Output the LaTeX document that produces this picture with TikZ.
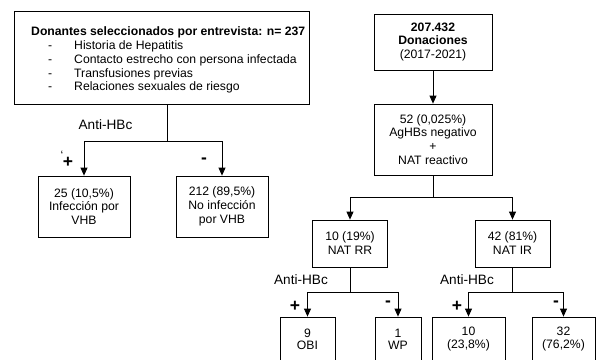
\documentclass[tikz,border=0pt]{standalone}
\usepackage{fontspec}
\setmainfont{Liberation Sans}
\usetikzlibrary{arrows.meta}
\newcommand{\basefs}{\fontsize{12.2}{13.9}\selectfont}
\tikzset{
  box/.style={draw, line width=0.8pt, align=center, inner sep=0pt, font=\basefs},
  lowbox/.style={box, font=\fontsize{12.2}{12.3}\selectfont},
  conn/.style={line width=0.8pt},
  arr/.style={line width=0.8pt, -{Triangle[width=7pt,length=8pt]}},
  lbl/.style={inner sep=0pt, font=\fontsize{13.6}{15}\selectfont},
  sign/.style={inner sep=0pt, font=\bfseries\fontsize{17.5}{17.5}\selectfont},
}
\newcommand{\itm}[1]{\makebox[43pt][l]{\hspace*{17pt}-}#1}
\begin{document}
\begin{tikzpicture}[x=1pt,y=-1pt]
\useasboundingbox (0,0) rectangle (600,359);
\clip (0,0) rectangle (600,359);
% left branch
\node[box, minimum width=295pt, minimum height=93pt] (tl) at (161.5,57.5) {};
\node[anchor=west, inner sep=0pt, align=left, font=\basefs] (tlt) at (31,60)
  {\textbf{Donantes seleccionados por entrevista: n= 237}\\
   \itm{Historia de Hepatitis}\\
   \itm{Contacto estrecho con persona infectada}\\
   \itm{Transfusiones previas}\\
   \itm{Relaciones sexuales de riesgo}};
\node[box, minimum width=92pt, minimum height=61pt] (b25) at (84,206.5) {25 (10,5\%)\\Infección por\\VHB};
\node[box, minimum width=92pt, minimum height=61pt] (b212) at (222,206.5) {212 (89,5\%)\\No infección\\por VHB};
\coordinate (j1) at (167,141);
\draw[conn] (tl.south -| j1) -- (j1);
\draw[arr] (j1) -| (b25.north);
\draw[arr] (j1) -| (b212.north);
\node[lbl] (ah1) at (105.5,125) {Anti-HBc};
\node[sign] (p1) at (68,162) {+};
\node[inner sep=0pt, font=\basefs] (bt) at (62,155) {`};
\node[sign] (m1) at (204,161) {-};
% right branch
\node[box, minimum width=118pt, minimum height=56pt] (don) at (433,42) {\textbf{207.432}\\\textbf{Donaciones}\\(2017-2021)};
\node[box, minimum width=118pt, minimum height=71pt] (ag) at (433,139.5) {52 (0,025\%)\\AgHBs negativo\\+\\NAT reactivo};
\draw[arr] (don) -- (ag);
\node[box, minimum width=75pt, minimum height=47pt] (rr) at (350,243.5) {10 (19\%)\\NAT RR};
\node[box, minimum width=75pt, minimum height=47pt] (ir) at (512.5,243.5) {42 (81\%)\\NAT IR};
\coordinate (j2) at (433,197);
\draw[conn] (ag.south) -- (j2);
\draw[arr] (j2) -| (rr.north);
\draw[arr] (j2) -| (ir.north);
\node[lbl] (ah2) at (301,280) {Anti-HBc};
\node[lbl] (ah3) at (467,280) {Anti-HBc};
\node[lowbox, minimum width=55pt, minimum height=44pt] (obi) at (307.5,339) {9\\OBI};
\node[lowbox, minimum width=46pt, minimum height=44pt] (wp) at (398,339) {1\\WP};
\node[lowbox, minimum width=73pt, minimum height=44pt] (b10) at (468.5,339) {10\\(23,8\%)};
\node[lowbox, minimum width=63pt, minimum height=44pt] (b32) at (563.5,339) {32\\(76,2\%)};
\coordinate (j3) at (350,292);
\coordinate (j4) at (512.5,292);
\draw[conn] (rr.south) -- (j3);
\draw[conn] (ir.south) -- (j4);
\draw[arr] (j3) -| (obi.north);
\draw[arr] (j3) -| (wp.north);
\draw[arr] (j4) -| (b10.north);
\draw[arr] (j4) -| (b32.north);
\node[sign] (p2) at (295,306) {+};
\node[sign] (m2) at (388,304) {-};
\node[sign] (p3) at (457,306) {+};
\node[sign] (m3) at (556,304) {-};
\end{tikzpicture}
\end{document}
